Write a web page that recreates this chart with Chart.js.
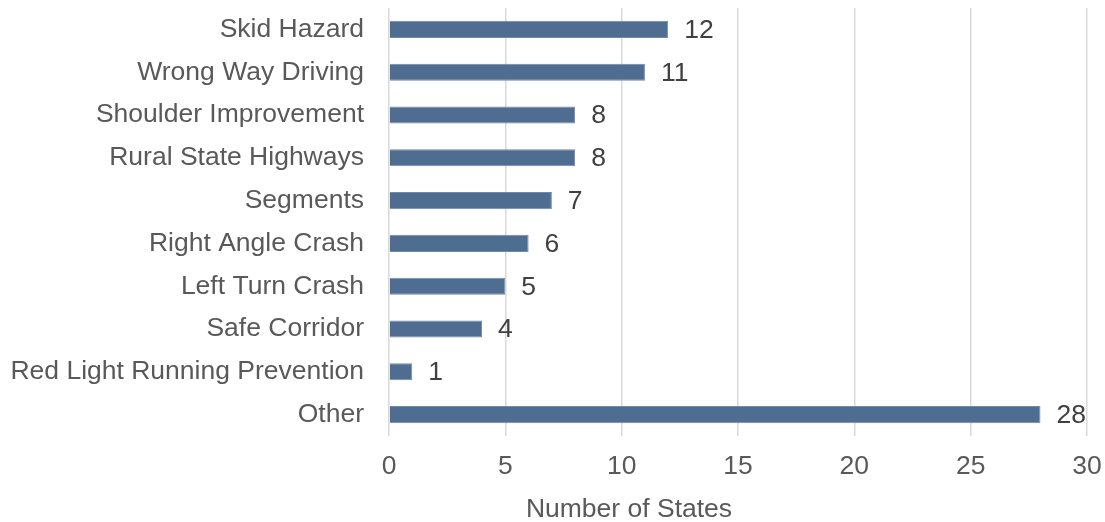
<!DOCTYPE html>
<html>
<head>
<meta charset="utf-8">
<script src="https://cdn.jsdelivr.net/npm/chart.js@4/dist/chart.umd.min.js"></script>
<style>
  html, body { margin: 0; padding: 0; background: #fff; }
  #wrap { width: 1105px; height: 522px; }
</style>
</head>
<body>
<div id="wrap"><canvas id="statesChart" width="1105" height="522"></canvas></div>
<script>
const categories = [
  "Skid Hazard",
  "Wrong Way Driving",
  "Shoulder Improvement",
  "Rural State Highways",
  "Segments",
  "Right Angle Crash",
  "Left Turn Crash",
  "Safe Corridor",
  "Red Light Running Prevention",
  "Other"
];
const stateCounts = [12, 11, 8, 8, 7, 6, 5, 4, 1, 28];
const xTicks = [0, 5, 10, 15, 20, 25, 30];
const xTitle = "Number of States";

const FONT = "'Liberation Sans', Arial, sans-serif";
const TEXT = "#595959";
const SIZE = 26.5;

// value labels at the end of each bar, plus the x axis title
const barValueLabels = {
  id: "barValueLabels",
  afterDatasetsDraw(chart) {
    const ctx = chart.ctx;
    const meta = chart.getDatasetMeta(0);
    ctx.save();
    ctx.font = SIZE + "px " + FONT;
    ctx.fillStyle = "#404040";
    ctx.textAlign = "left";
    ctx.textBaseline = "middle";
    meta.data.forEach((bar, i) => {
      ctx.fillText(String(stateCounts[i]), bar.x + 16, bar.y + 1);
    });
    // axis title sits a bit left of the plot centre
    ctx.fillStyle = TEXT;
    ctx.textAlign = "center";
    ctx.fillText(xTitle, 629, 510);
    ctx.restore();
  }
};

new Chart(document.getElementById("statesChart").getContext("2d"), {
  type: "bar",
  data: {
    labels: categories,
    datasets: [{
      data: stateCounts,
      backgroundColor: "#4f6c91",
      borderColor: "#6f89ab",
      borderWidth: 1,
      borderSkipped: "left",
      categoryPercentage: 0.8,
      barPercentage: 0.5
    }]
  },
  options: {
    indexAxis: "y",
    responsive: false,
    animation: false,
    layout: { padding: { top: 8, right: 18, left: 0, bottom: 0 } },
    plugins: {
      legend: { display: false },
      tooltip: { enabled: false }
    },
    scales: {
      x: {
        min: 0,
        max: 30,
        afterBuildTicks(scale) { scale.ticks = xTicks.map(v => ({ value: v })); },
        afterFit(scale) {
          scale.height = 86;
          scale.paddingLeft = 0;
          scale.paddingRight = 0;
        },
        grid: { color: "#d9d9d9", lineWidth: 1.5, drawTicks: false },
        border: { display: false },
        ticks: { color: TEXT, font: { family: FONT, size: SIZE }, padding: 15 }
      },
      y: {
        afterFit(scale) {
          scale.width = 389;
          scale.paddingTop = 0;
          scale.paddingBottom = 0;
        },
        grid: { display: false, drawTicks: false },
        border: { display: false },
        ticks: { color: TEXT, font: { family: FONT, size: SIZE }, padding: 25 }
      }
    }
  },
  plugins: [barValueLabels]
});
</script>
</body>
</html>
